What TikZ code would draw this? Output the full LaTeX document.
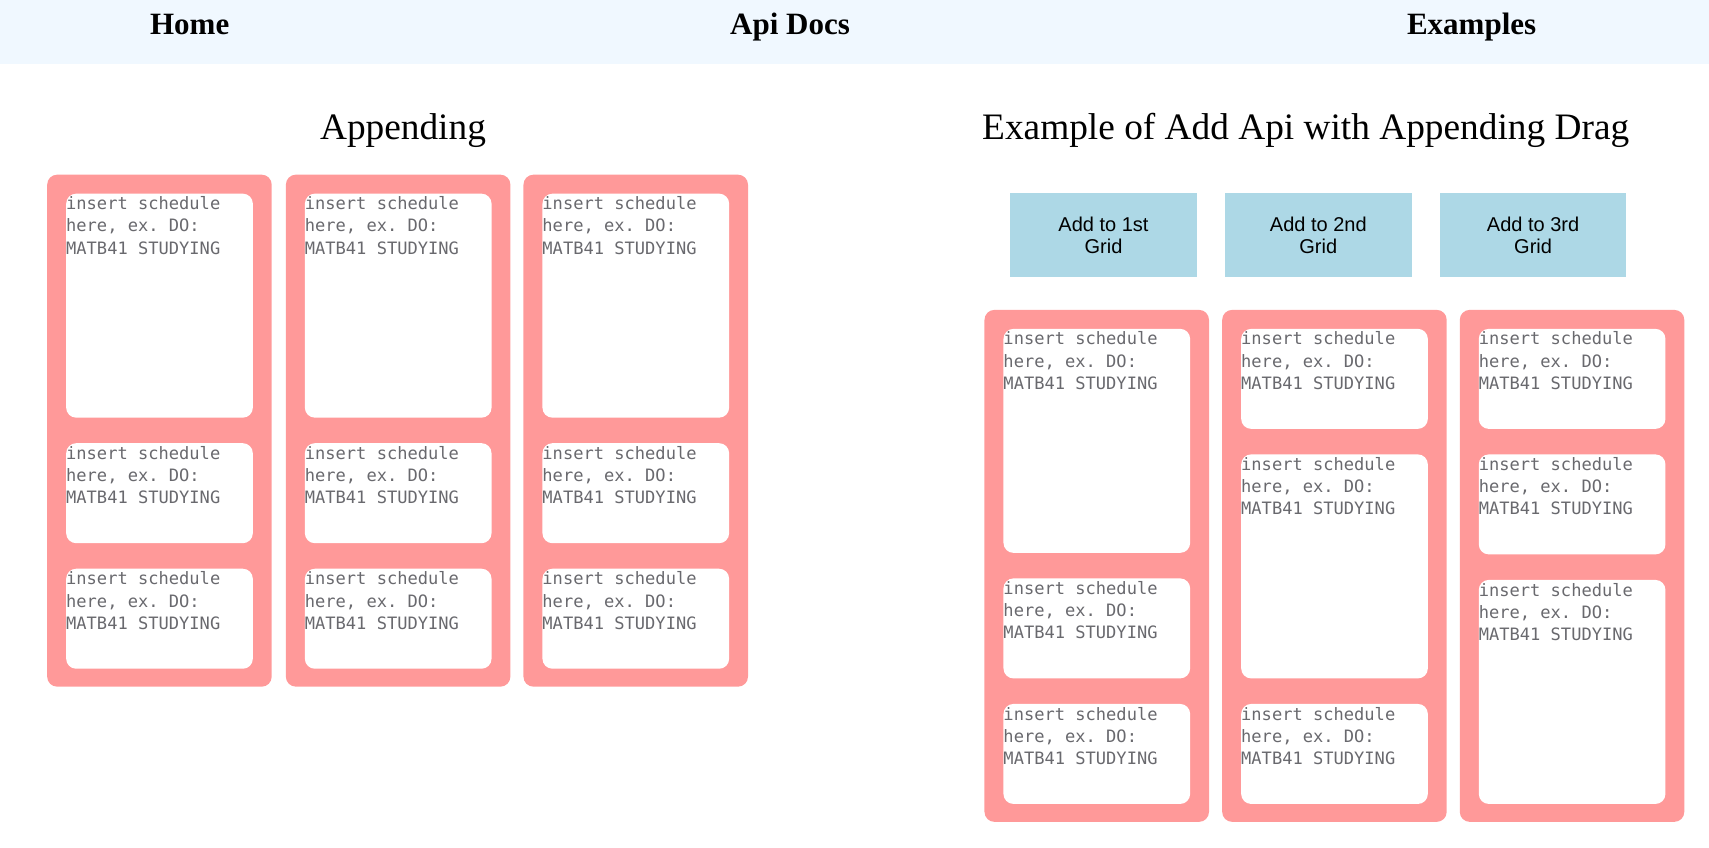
\documentclass[tikz,border=0pt]{standalone}
\usepackage{fontspec}
\setmainfont{Liberation Serif}
\setsansfont{Liberation Sans}
\setmonofont{DejaVu Sans Mono}
\usetikzlibrary{positioning}

\definecolor{navbg}{HTML}{F0F8FF}
\definecolor{gridpink}{HTML}{FF9999}
\definecolor{btnblue}{HTML}{ADD8E6}
\definecolor{schedgray}{RGB}{105,105,110}

\newcommand{\schedtext}{insert schedule\\here, ex. DO:\\MATB41 STUDYING}

\tikzset{
  gridcol/.style={fill=gridpink, rounded corners=7.5pt, minimum width=168.4pt, minimum height=384pt, inner sep=0pt, anchor=north west},
  card/.style={fill=white, rounded corners=7.5pt, minimum width=140pt, inner sep=0pt},
  cardtxt/.style={anchor=north west, inner sep=0pt, align=left, text=schedgray, font=\ttfamily\fontsize{12.8pt}{16.65pt}\selectfont},
  addbtn/.style={fill=btnblue, minimum width=139.8pt, minimum height=62.5pt, inner sep=0pt, align=center, font=\sffamily\fontsize{15pt}{16.7pt}\selectfont},
  navtxt/.style={anchor=base, font=\bfseries\fontsize{23.25pt}{28pt}\selectfont},
  pagetitle/.style={anchor=base, font=\fontsize{28pt}{34pt}\selectfont}
}

\begin{document}
\begin{tikzpicture}[x=0.75pt, y=-0.75pt]
  \useasboundingbox (0,0) rectangle (1709,848);
  \fill[navbg] (0,0) rectangle (1709,64);
  \node[navtxt] (home) at (189.7,35) {Home};
  \node[navtxt] (apidocs) at (790,35) {Api Docs};
  \node[navtxt] (examples) at (1471.6,35) {Examples};

  \node[pagetitle] (apptitle) at (403,140) {Appending};
  \node[pagetitle] (extitle) at (1305.7,140) {Example of Add Api with Appending Drag};

  \foreach \i/\x in {1/46.9, 2/285.6, 3/523.2}{
    \node[gridcol] (lcol\i) at (\x,174.4) {};
    \node[card, minimum height=168pt, below right=14.25pt and 14.25pt of lcol\i.north west] (lcol\i-a) {};
    \node[card, minimum height=75pt, below=18.75pt of lcol\i-a] (lcol\i-b) {};
    \node[card, minimum height=75pt, below=18.75pt of lcol\i-b] (lcol\i-c) {};
    \foreach \c in {a,b,c}
      \node[cardtxt] (lcol\i-\c-txt) at ([yshift=-2.3pt]lcol\i-\c.north west) {\schedtext};
  }

  \node[addbtn] (btn1) at (1103.5,235) {Add to 1st\\Grid};
  \node[addbtn] (btn2) at (1318.3,235) {Add to 2nd\\Grid};
  \node[addbtn] (btn3) at (1533.1,235) {Add to 3rd\\Grid};

  \foreach \i/\x/\ha/\hb/\hc in {1/984.2/168/75/75, 2/1221.9/75/168/75, 3/1459.5/75/75/168}{
    \node[gridcol] (rcol\i) at (\x,309.6) {};
    \node[card, minimum height=\ha pt, below right=14.25pt and 14.25pt of rcol\i.north west] (rcol\i-a) {};
    \node[card, minimum height=\hb pt, below=18.75pt of rcol\i-a] (rcol\i-b) {};
    \node[card, minimum height=\hc pt, below=18.75pt of rcol\i-b] (rcol\i-c) {};
    \foreach \c in {a,b,c}
      \node[cardtxt] (rcol\i-\c-txt) at ([yshift=-2.3pt]rcol\i-\c.north west) {\schedtext};
  }
\end{tikzpicture}
\end{document}
